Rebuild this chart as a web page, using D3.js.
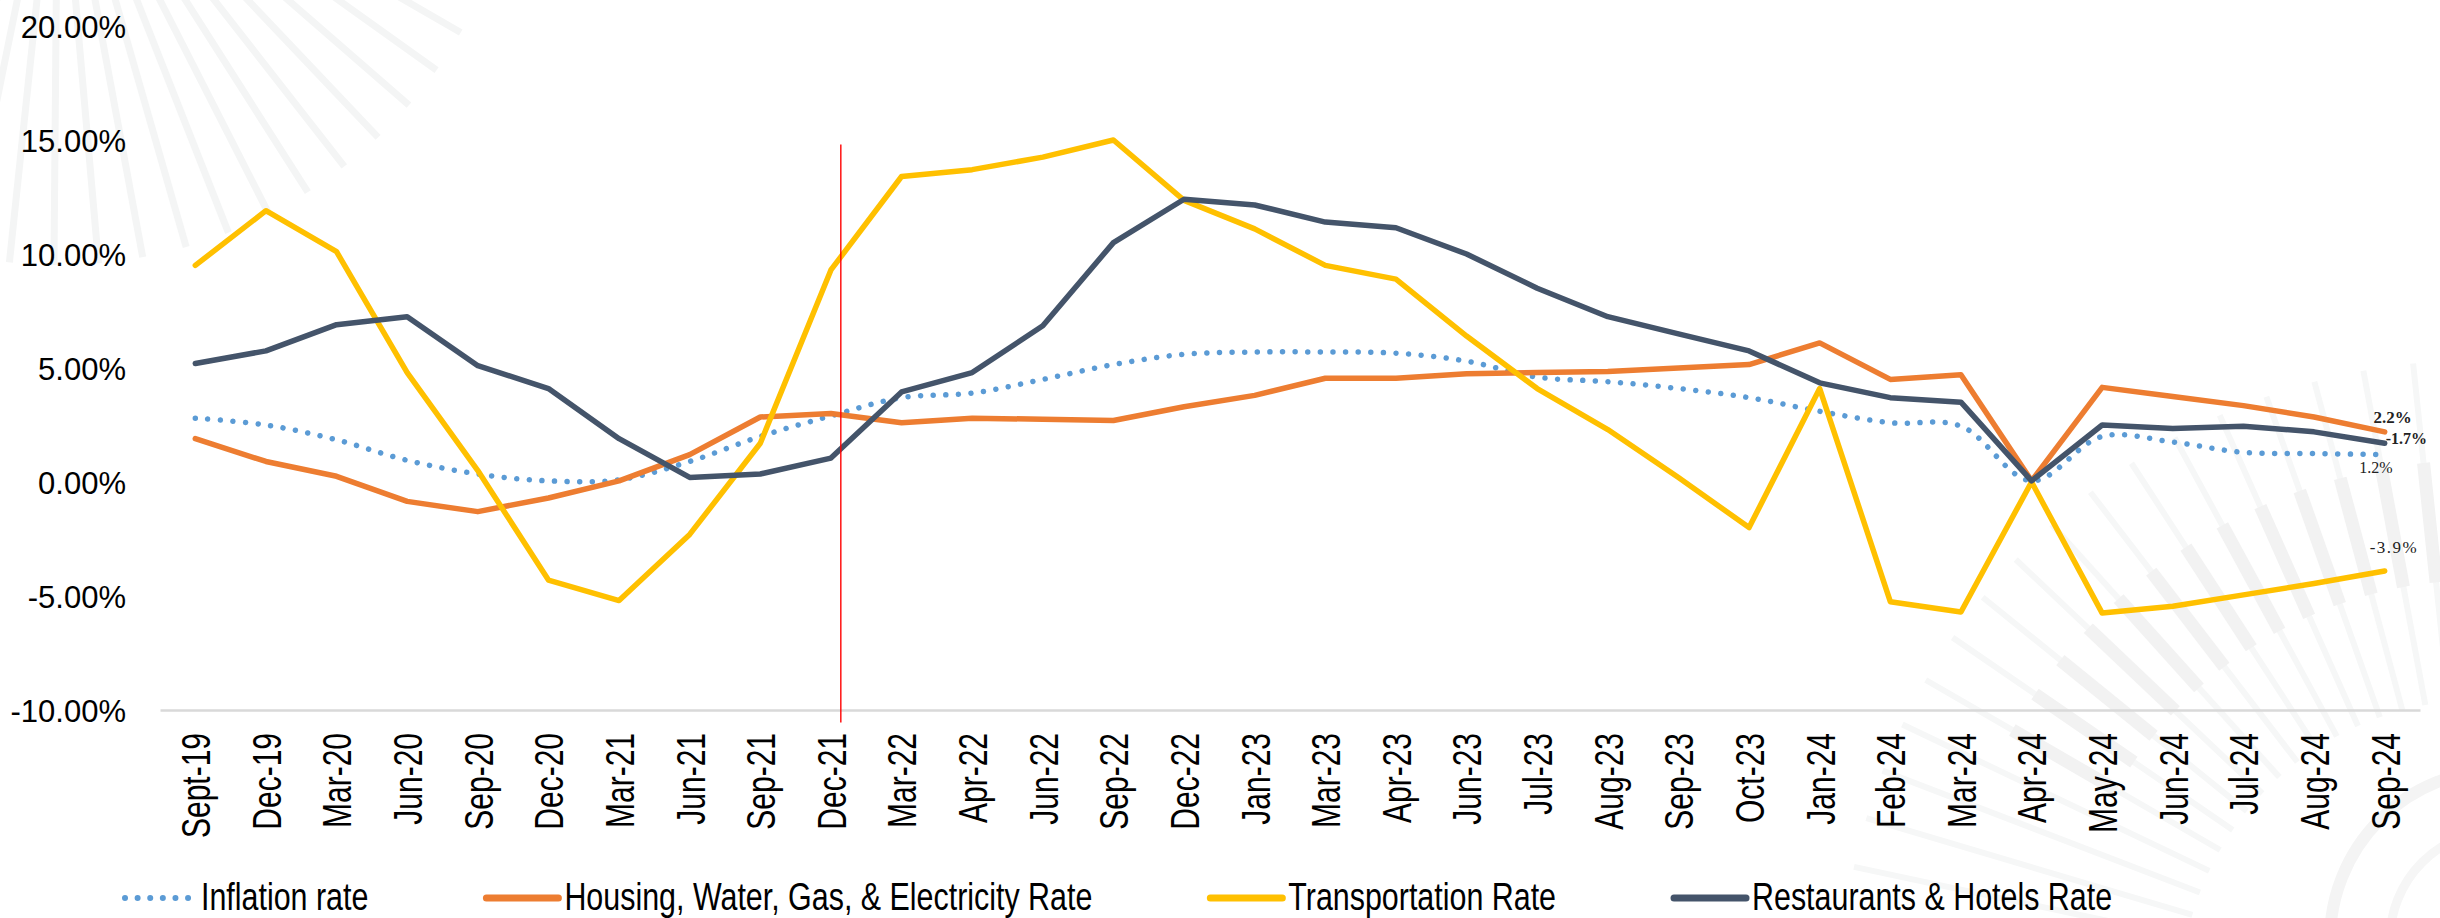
<!DOCTYPE html>
<html>
<head>
<meta charset="utf-8">
<script src="https://cdn.jsdelivr.net/npm/d3@7"></script>
<style>
  html, body { margin: 0; padding: 0; background: #fff; }
  svg { display: block; }
</style>
</head>
<body>
<div id="chart"></div>
<script>
const categories = ['Sept-19', 'Dec-19', 'Mar-20', 'Jun-20', 'Sep-20', 'Dec-20', 'Mar-21', 'Jun-21',
  'Sep-21', 'Dec-21', 'Mar-22', 'Apr-22', 'Jun-22', 'Sep-22', 'Dec-22', 'Jan-23', 'Mar-23', 'Apr-23',
  'Jun-23', 'Jul-23', 'Aug-23', 'Sep-23', 'Oct-23', 'Jan-24', 'Feb-24', 'Mar-24', 'Apr-24', 'May-24',
  'Jun-24', 'Jul-24', 'Aug-24', 'Sep-24'];

const inflation = [2.8, 2.5, 1.85, 0.95, 0.35, 0.05, 0.1, 0.9, 2.0, 2.9, 3.7, 3.9, 4.5, 5.15, 5.6, 5.7,
  5.7, 5.65, 5.3, 4.6, 4.4, 4.1, 3.7, 3.1, 2.6, 2.45, 0.05, 2.0, 1.75, 1.3, 1.25, 1.2];
const housing = [1.9, 0.9, 0.25, -0.85, -1.3, -0.7, 0.05, 1.2, 2.85, 3.0, 2.6, 2.8, 2.75, 2.7, 3.3, 3.8,
  4.55, 4.55, 4.75, 4.8, 4.85, 5.0, 5.15, 6.1, 4.5, 4.7, 0.05, 4.15, 3.75, 3.35, 2.85, 2.2];
const transport = [9.5, 11.9, 10.1, 4.8, 0.5, -4.3, -5.2, -2.3, 1.7, 9.3, 13.4, 13.7, 14.25, 15.0, 12.35,
  11.1, 9.5, 8.9, 6.4, 4.1, 2.3, 0.2, -2.0, 4.1, -5.25, -5.7, 0, -5.75, -5.45, -4.95, -4.45, -3.9];
const restaurants = [5.2, 5.75, 6.9, 7.25, 5.1, 4.1, 1.9, 0.2, 0.35, 1.05, 3.95, 4.8, 6.85, 10.5, 12.4,
  12.15, 11.4, 11.15, 10.0, 8.5, 7.25, 6.5, 5.75, 4.35, 3.7, 3.5, 0.05, 2.5, 2.35, 2.45, 2.2, 1.7];

const yTicks = [-10, -5, 0, 5, 10, 15, 20];
const seriesNames = ['Inflation rate', 'Housing, Water, Gas, & Electricity Rate', 'Transportation Rate',
  'Restaurants & Hotels Rate'];
const endLabels = ['1.2%', '2.2%', '-3.9%', '-1.7%'];
const markerCategory = 'Dec-21';

const W = 2440, H = 918;
const colors = ['#5b9bd5', '#ed7d31', '#ffc000', '#44546a'];
const seriesValues = [inflation, housing, transport, restaurants];

const series = seriesNames.map((name, i) => ({
  name,
  color: colors[i],
  dotted: i === 0,
  label: endLabels[i],
  values: categories.map((c, j) => ({ cat: c, v: seriesValues[i][j] }))
}));

const svg = d3.select('#chart').append('svg').attr('width', W).attr('height', H);

// faint sunburst watermark, top-left and bottom-right
const wm = svg.append('g').attr('class', 'watermark');
const rays = (cx, cy, a0, a1, step, r0, r1, width, color) => {
  d3.range(a0, a1 + 0.001, step).forEach((a) => {
    const t = (a * Math.PI) / 180;
    wm.append('line')
      .attr('x1', cx + r0 * Math.cos(t)).attr('y1', cy + r0 * Math.sin(t))
      .attr('x2', cx + r1 * Math.cos(t)).attr('y2', cy + r1 * Math.sin(t))
      .attr('stroke', color).attr('stroke-width', width);
  });
};
rays(58, -200, 30, 118, 5.5, 150, 465, 7, '#f4f5f5');
rays(2480, 1000, 192, 280, 4.5, 300, 640, 6, '#f6f7f7');
rays(2480, 1000, 210, 272, 4.5, 420, 540, 13, '#f2f2f2');
wm.append('circle').attr('cx', 2500).attr('cy', 940).attr('r', 170)
  .attr('fill', 'none').attr('stroke', '#f4f4f4').attr('stroke-width', 12);
wm.append('circle').attr('cx', 2500).attr('cy', 940).attr('r', 110)
  .attr('fill', 'none').attr('stroke', '#f6f6f6').attr('stroke-width', 9);

const x = d3.scalePoint().domain(categories).range([160, 2420]).padding(0.5);
const y = d3.scaleLinear().domain([-10, 20]).range([710, 26]);

// y axis
const yAxis = svg.append('g')
  .attr('transform', 'translate(126,0)')
  .call(d3.axisLeft(y).tickValues(yTicks).tickSize(0).tickPadding(0)
    .tickFormat((d) => d.toFixed(2) + '%'));
yAxis.select('.domain').remove();
yAxis.selectAll('text')
  .attr('font-family', '"Liberation Sans", Arial, sans-serif')
  .attr('font-size', 31)
  .attr('fill', '#000')
  .attr('dy', '0.36em');

// x axis
const xAxis = svg.append('g')
  .attr('transform', `translate(0,${y(-10)})`)
  .call(d3.axisBottom(x).tickSize(0).tickSizeOuter(0));
xAxis.select('.domain').attr('stroke', '#d9d9d9').attr('stroke-width', 2.5);
xAxis.selectAll('text')
  .attr('font-family', '"Liberation Sans", Arial, sans-serif')
  .attr('font-size', 40)
  .attr('fill', '#000')
  .attr('text-anchor', 'end')
  .attr('x', 0)
  .attr('y', 0)
  .attr('dy', '0.36em')
  .attr('transform', 'translate(0,23) rotate(-90) scale(0.75,1)');

// series lines
const line = d3.line().x((d) => x(d.cat)).y((d) => y(d.v));
const smooth = d3.line().x((d) => x(d.cat)).y((d) => y(d.v)).curve(d3.curveCatmullRom.alpha(0.5));

svg.append('g')
  .selectAll('path')
  .data(series)
  .enter()
  .append('path')
  .attr('d', (d) => (d.dotted ? smooth(d.values) : line(d.values)))
  .attr('fill', 'none')
  .attr('stroke', (d) => d.color)
  .attr('stroke-width', 5.5)
  .attr('stroke-linejoin', 'round')
  .attr('stroke-linecap', 'round')
  .attr('stroke-dasharray', (d) => (d.dotted ? '0.01 12.6' : null));

// vertical marker line
svg.append('line')
  .attr('x1', x(markerCategory) + x.step() * 0.14)
  .attr('x2', x(markerCategory) + x.step() * 0.14)
  .attr('y1', y(14.8))
  .attr('y2', y(-10.55))
  .attr('stroke', '#ff0000')
  .attr('stroke-width', 1.4);

// end labels
const last = categories[categories.length - 1];
const labelPos = [
  { dx: 8, dy: 18, anchor: 'end', weight: 'normal', size: 16, ls: 0 },
  { dx: 8, dy: -9, anchor: 'middle', weight: 'bold', size: 17, ls: 0 },
  { dx: -15, dy: -18, anchor: 'start', weight: 'normal', size: 17, ls: 1.5 },
  { dx: 1, dy: 1, anchor: 'start', weight: 'bold', size: 16, ls: 0 }
];
svg.append('g')
  .selectAll('text')
  .data(series)
  .enter()
  .append('text')
  .attr('x', (d, i) => x(last) + labelPos[i].dx)
  .attr('y', (d, i) => y(d.values[d.values.length - 1].v) + labelPos[i].dy)
  .attr('text-anchor', (d, i) => labelPos[i].anchor)
  .attr('font-family', '"Liberation Serif", "Times New Roman", serif')
  .attr('font-size', (d, i) => labelPos[i].size)
  .attr('font-weight', (d, i) => labelPos[i].weight)
  .attr('letter-spacing', (d, i) => labelPos[i].ls)
  .attr('fill', '#222')
  .text((d) => d.label);

// legend
const legend = svg.append('g').attr('transform', 'translate(123,898)');
let cursor = 0;
series.forEach((s) => {
  const item = legend.append('g').attr('transform', `translate(${cursor},0)`);
  item.append('line')
    .attr('x1', s.dotted ? 2 : 0).attr('x2', s.dotted ? 66 : 72)
    .attr('y1', 0).attr('y2', 0)
    .attr('stroke', s.color)
    .attr('stroke-width', s.dotted ? 6 : 7)
    .attr('stroke-linecap', 'round')
    .attr('stroke-dasharray', s.dotted ? '0.01 12.6' : null);
  const t = item.append('text')
    .attr('transform', 'translate(78,12) scale(0.78,1)')
    .attr('font-family', '"Liberation Sans", Arial, sans-serif')
    .attr('font-size', 39)
    .attr('fill', '#000')
    .text(s.name);
  const w = t.node().getComputedTextLength() * 0.78;
  cursor += 78 + w + 118;
});
</script>
</body>
</html>
